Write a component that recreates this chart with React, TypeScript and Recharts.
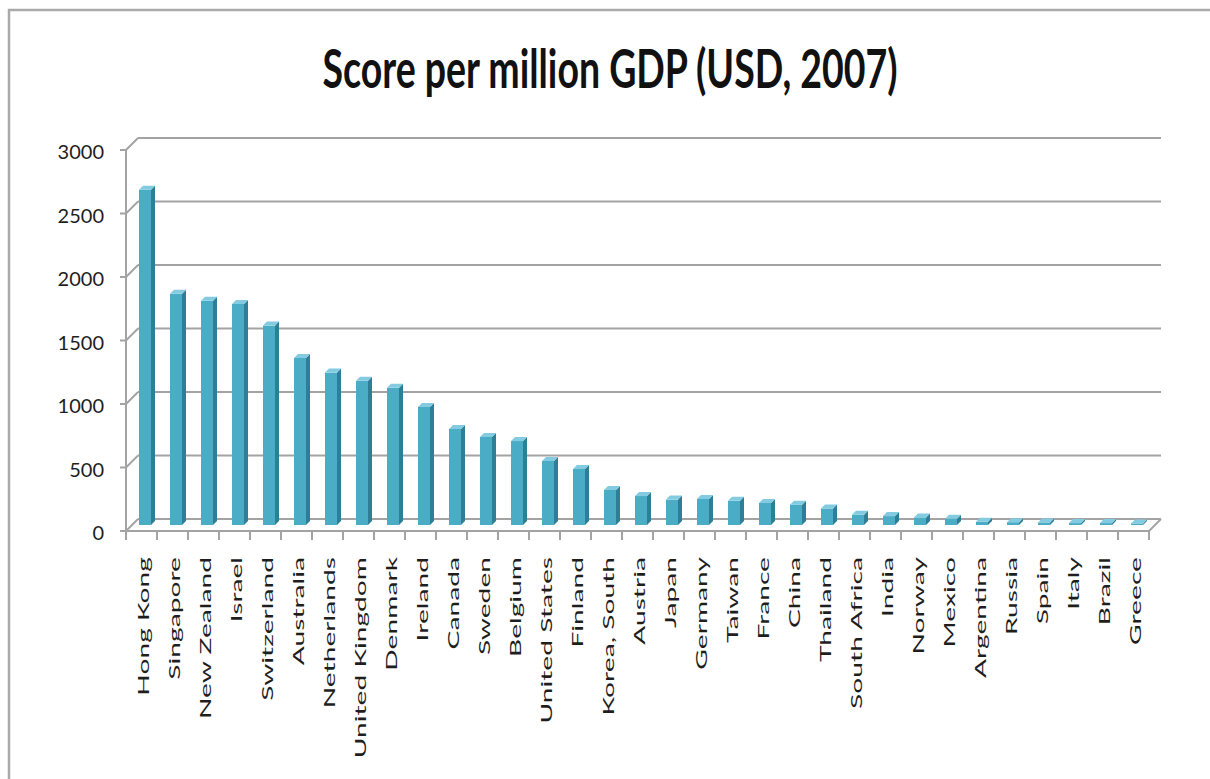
import React from "react";
import {
  BarChart,
  Bar,
  XAxis,
  YAxis,
  CartesianGrid,
  ReferenceArea,
} from "recharts";

const countries = [
  "Hong Kong",
  "Singapore",
  "New Zealand",
  "Israel",
  "Switzerland",
  "Australia",
  "Netherlands",
  "United Kingdom",
  "Denmark",
  "Ireland",
  "Canada",
  "Sweden",
  "Belgium",
  "United States",
  "Finland",
  "Korea, South",
  "Austria",
  "Japan",
  "Germany",
  "Taiwan",
  "France",
  "China",
  "Thailand",
  "South Africa",
  "India",
  "Norway",
  "Mexico",
  "Argentina",
  "Russia",
  "Spain",
  "Italy",
  "Brazil",
  "Greece",
];

const scores = [
  2640, 1820, 1765, 1740, 1570, 1315, 1200, 1135, 1080, 930, 756, 693, 661,
  504, 441, 276, 228, 200, 205, 190, 173, 160, 130, 80, 70, 60, 50, 25, 22,
  20, 15, 15, 12,
];

const yTicks = [0, 500, 1000, 1500, 2000, 2500, 3000];

const data = countries.map((country, i) => ({ country, score: scores[i] }));

// layout of the back wall of the 3d plot
const W = 1210;
const H = 779;
const PLOT_LEFT = 138;
const PLOT_RIGHT = 1161;
const PLOT_TOP = 138;
const PLOT_BOTTOM = 519;
const DEPTH = 12;
const BAND = (PLOT_RIGHT - PLOT_LEFT) / countries.length;
const FONT = "Lato, 'Open Sans', sans-serif";
const AXIS = "#a3a3a3";

const YTick = (props: any) => {
  const { y, payload } = props;
  return (
    <g>
      <line
        x1={PLOT_LEFT - DEPTH - 6}
        y1={y + DEPTH}
        x2={PLOT_LEFT - DEPTH}
        y2={y + DEPTH}
        stroke={AXIS}
        strokeWidth={2}
      />
      <line
        x1={PLOT_LEFT - DEPTH}
        y1={y + DEPTH}
        x2={PLOT_LEFT}
        y2={y}
        stroke={AXIS}
        strokeWidth={2}
      />
      <text
        x={104}
        y={y + 13}
        textAnchor="end"
        dominantBaseline="central"
        fontFamily={FONT}
        fontSize={20}
        fill="#1e1e1e"
      >
        {payload.value}
      </text>
    </g>
  );
};

const XTick = (props: any) => {
  const { x, payload } = props;
  const index = props.index ?? payload.index;
  const baseY = PLOT_BOTTOM + DEPTH;
  const left = x - BAND / 2 - DEPTH;
  return (
    <g>
      <line x1={left} y1={baseY} x2={left} y2={baseY + 9} stroke={AXIS} strokeWidth={2} />
      {index === countries.length - 1 && (
        <line
          x1={left + BAND}
          y1={baseY}
          x2={left + BAND}
          y2={baseY + 9}
          stroke={AXIS}
          strokeWidth={2}
        />
      )}
      <text
        transform={`translate(${x - 5},557) rotate(-90) scale(1.88,1)`}
        textAnchor="end"
        fontFamily={FONT}
        fontSize={15}
        fill="#1e1e1e"
      >
        {payload.value}
      </text>
    </g>
  );
};

const Column = (props: any) => {
  const { x, y, width, height } = props;
  const fx = x - 9;
  const fy = y + 6;
  const d = 4;
  const h = Math.max(height, 0);
  return (
    <g>
      <rect x={fx} y={fy} width={width} height={h} fill="#4aacc5" />
      <polygon
        points={`${fx + width},${fy} ${fx + width + d},${fy - d} ${fx + width + d},${fy + h - d} ${fx + width},${fy + h}`}
        fill="#2e7f95"
      />
      <polygon
        points={`${fx},${fy} ${fx + width},${fy} ${fx + width + d},${fy - d} ${fx + d},${fy - d}`}
        fill="#82cbe0"
      />
    </g>
  );
};

const Frame = (props: any) => {
  const { x, y, width, height } = props;
  const bottom = y + height;
  return (
    <g>
      <line
        x1={x - DEPTH}
        y1={y + DEPTH}
        x2={x - DEPTH}
        y2={bottom + DEPTH + 9}
        stroke={AXIS}
        strokeWidth={2}
      />
      <line
        x1={x - DEPTH}
        y1={bottom + DEPTH}
        x2={x + width - DEPTH}
        y2={bottom + DEPTH}
        stroke={AXIS}
        strokeWidth={2}
      />
      <line
        x1={x + width - DEPTH}
        y1={bottom + DEPTH}
        x2={x + width}
        y2={bottom}
        stroke={AXIS}
        strokeWidth={2}
      />
    </g>
  );
};

export default function App() {
  return (
    <div style={{ position: "absolute", left: 0, top: 0, width: W, height: H, background: "#fff" }}>
      <svg width={W} height={H} style={{ position: "absolute", left: 0, top: 0 }}>
        <polyline points={`9,${H} 9,10 ${W},10`} fill="none" stroke="#aaaaaa" strokeWidth={2.5} />
        <text
          transform="translate(610,88) scale(1,1.65)"
          textAnchor="middle"
          fontFamily={FONT}
          fontWeight="bold"
          fontSize={32}
          textLength={575}
          lengthAdjust="spacingAndGlyphs"
          fill="#111"
        >
          Score per million GDP (USD, 2007)
        </text>
      </svg>
      <div style={{ position: "absolute", left: 0, top: 0 }}>
        <BarChart
          width={W}
          height={H}
          data={data}
          margin={{ top: PLOT_TOP, left: PLOT_LEFT - 100, right: W - PLOT_RIGHT, bottom: 20 }}
          barSize={12}
        >
          <CartesianGrid vertical={false} stroke={AXIS} strokeWidth={2} />
          <ReferenceArea y1={0} y2={3000} shape={<Frame />} fill="none" />
          <XAxis
            dataKey="country"
            interval={0}
            axisLine={false}
            tickLine={false}
            height={H - PLOT_BOTTOM - 20}
            tick={<XTick />}
          />
          <YAxis
            domain={[0, 3000]}
            ticks={yTicks}
            axisLine={false}
            tickLine={false}
            width={100}
            tick={<YTick />}
          />
          <Bar dataKey="score" shape={<Column />} isAnimationActive={false} />
        </BarChart>
      </div>
    </div>
  );
}
